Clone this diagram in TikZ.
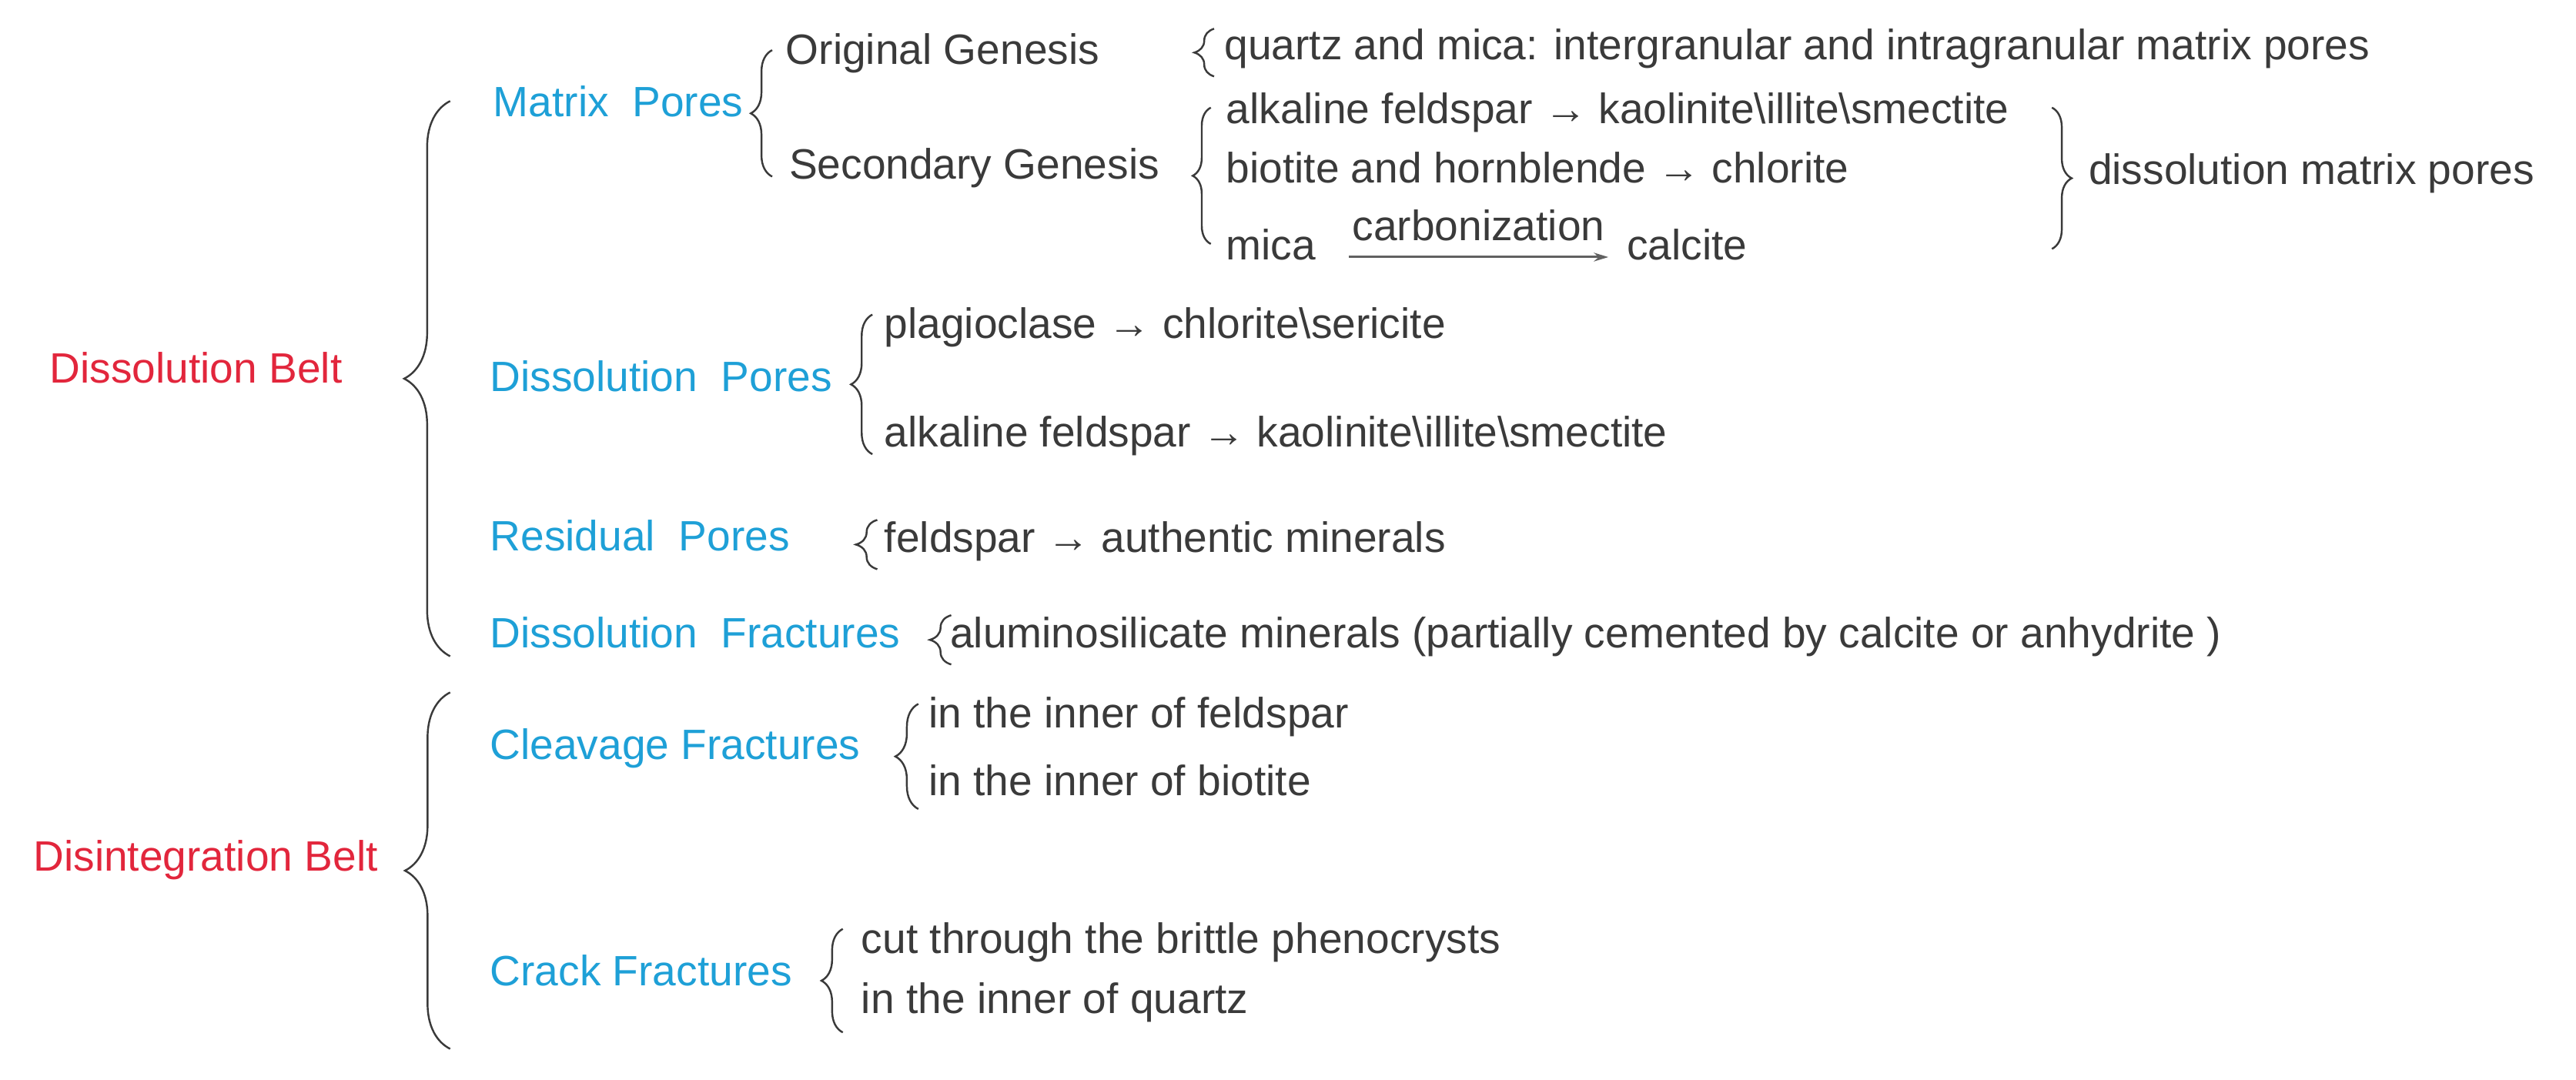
\documentclass[tikz,border=0pt]{standalone}
\usepackage{fontspec}
\setmainfont{Liberation Sans}
\usetikzlibrary{decorations.pathreplacing,arrows.meta}
\definecolor{beltred}{RGB}{226,38,60}
\definecolor{poreblue}{RGB}{30,160,215}
\definecolor{txtgray}{RGB}{58,58,58}
\begin{document}
\begin{tikzpicture}[x=0.02cm,y=-0.02cm]
		\tikzset{every node/.style = {inner sep=0pt, anchor=mid west, yshift=-0.07cm, font=\fontsize{14.7pt}{17pt}\selectfont}}
		\tikzset{belt/.style = {text=beltred}}
		\tikzset{pore/.style = {text=poreblue}}
		\tikzset{note/.style = {text=txtgray}}
		\tikzset{curly/.style = {draw=txtgray, line width=0.65pt, decorate, decoration={brace, amplitude=#1}}}

		\useasboundingbox[fill=white] (0,0) rectangle (1568,657);

		\node[belt] (db) at (30,225) {Dissolution Belt};
		\node[belt] (ib) at (20,522) {Disintegration Belt};

		\node[pore] (mp) at (300,63) {Matrix~~Pores};
		\node[pore] (dp) at (298,230) {Dissolution~~Pores};
		\node[pore] (rp) at (298,327) {Residual~~Pores};
		\node[pore] (df) at (298,386) {Dissolution~~Fractures};
		\node[pore] (cf) at (298,454) {Cleavage Fractures};
		\node[pore] (crf) at (298,592) {Crack Fractures};

		\node[note] (og) at (478,31) {Original Genesis};
		\node[note] (sg) at (480,101) {Secondary Genesis};
		\node[note] (qm) at (745,28) {quartz and mica: intergranular and intragranular matrix pores};
		\node[note] (af1) at (746,67) {alkaline feldspar → kaolinite\textbackslash illite\textbackslash smectite};
		\node[note] (bh) at (746,103) {biotite and hornblende → chlorite};
		\node[note] (mica) at (746,150) {mica};
		\node[note] (calc) at (990,150) {calcite};
		\node[note] (dmp) at (1271,104) {dissolution matrix pores};
		\node[note] (pc) at (538,198) {plagioclase → chlorite\textbackslash sericite};
		\node[note] (af2) at (538,264) {alkaline feldspar → kaolinite\textbackslash illite\textbackslash smectite};
		\node[note] (fs) at (538,328) {feldspar → authentic minerals};
		\node[note] (al) at (578,386) {aluminosilicate minerals (partially cemented by calcite or anhydrite )};
		\node[note] (ifs) at (565,435) {in the inner of feldspar};
		\node[note] (ibi) at (565,476) {in the inner of biotite};
		\node[note] (ct) at (524,572) {cut through the brittle phenocrysts};
		\node[note] (iq) at (524,609) {in the inner of quartz};

		% carbonization arrow
		\coordinate (c1) at (821,153);
		\coordinate (c2) at (979,153);
		\draw[txtgray!80, line width=0.8pt, -{Stealth[length=5pt,width=3pt]}] (c1) -- node[note, midway, anchor=base, yshift=0.27cm] (cb) {carbonization} (c2);

		% braces
		\coordinate (b1a) at (274,396); \coordinate (b1b) at (274,58);
		\coordinate (b2a) at (274,635); \coordinate (b2b) at (274,418);
		\coordinate (b3a) at (470,104); \coordinate (b3b) at (470,27);
		\coordinate (b4a) at (737,145); \coordinate (b4b) at (737,62);
		\coordinate (b5a) at (739,43); \coordinate (b5b) at (739,14);
		\coordinate (b6a) at (1249,62); \coordinate (b6b) at (1249,148);
		\coordinate (b7a) at (531,273); \coordinate (b7b) at (531,188);
		\coordinate (b8a) at (534,343); \coordinate (b8b) at (534,313);
		\coordinate (b9a) at (579,401); \coordinate (b9b) at (579,371);
		\coordinate (b10a) at (559,489); \coordinate (b10b) at (559,425);
		\coordinate (b11a) at (513,625); \coordinate (b11b) at (513,562);

		\draw[curly=0.56cm] (b1a) -- (b1b);
		\draw[curly=0.55cm] (b2a) -- (b2b);
		\draw[curly=0.26cm] (b3a) -- (b3b);
		\draw[curly=0.22cm] (b4a) -- (b4b);
		\draw[curly=0.24cm] (b5a) -- (b5b);
		\draw[curly=0.24cm] (b6a) -- (b6b);
		\draw[curly=0.26cm] (b7a) -- (b7b);
		\draw[curly=0.26cm] (b8a) -- (b8b);
		\draw[curly=0.26cm] (b9a) -- (b9b);
		\draw[curly=0.28cm] (b10a) -- (b10b);
		\draw[curly=0.26cm] (b11a) -- (b11b);

	\end{tikzpicture}
\end{document}
